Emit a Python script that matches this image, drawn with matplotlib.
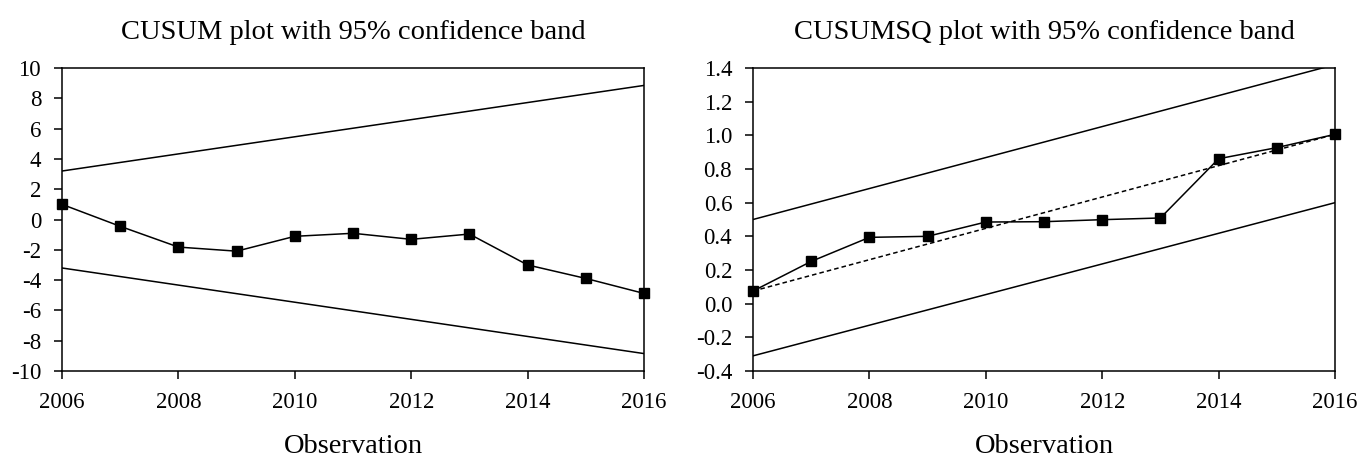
import matplotlib
matplotlib.use("Agg")
import matplotlib.pyplot as plt
from matplotlib.ticker import FormatStrFormatter

# datos
anios = [2006, 2007, 2008, 2009, 2010, 2011, 2012, 2013, 2014, 2015, 2016]
cusum = [1.0, -0.45, -1.82, -2.09, -1.11, -0.91, -1.31, -0.96, -3.0, -3.89, -4.88]
cusumsq = [0.075, 0.251, 0.394, 0.400, 0.485, 0.487, 0.499, 0.509, 0.861, 0.927, 1.006]

# bandas (extremos 2006 y 2016)
banda_anios = [2006, 2016]
cusum_sup = [3.2, 8.85]
cusum_inf = [-3.2, -8.85]
cusumsq_esperado = [0.075, 1.006]
cusumsq_sup = [0.50, 1.42]
cusumsq_inf = [-0.31, 0.60]

plt.rcParams['font.family'] = ['Liberation Serif', 'DejaVu Serif']
plt.rcParams['axes.unicode_minus'] = False

fig = plt.figure(figsize=(13.61, 4.57), dpi=100)
ax1 = fig.add_axes([62 / 1361, 86 / 457, 582 / 1361, 303 / 457])
ax2 = fig.add_axes([753 / 1361, 86 / 457, 582 / 1361, 303 / 457])

# CUSUM
ax1.plot(banda_anios, cusum_sup, color='black', lw=1.1)
ax1.plot(banda_anios, cusum_inf, color='black', lw=1.1)
ax1.plot(anios, cusum, color='black', lw=1.1, marker='s', ms=6.5, clip_on=False)
ax1.set_ylim(-10, 10)
ax1.set_yticks(range(-10, 11, 2))
ax1.set_title('CUSUM plot with 95% confidence band', fontsize=20.5, pad=21)

# CUSUMSQ
ax2.plot(banda_anios, cusumsq_sup, color='black', lw=1.1)
ax2.plot(banda_anios, cusumsq_inf, color='black', lw=1.1)
ax2.plot(banda_anios, cusumsq_esperado, color='black', lw=1.1, ls=(0, (3, 2)))
ax2.plot(anios, cusumsq, color='black', lw=1.1, marker='s', ms=6.5, clip_on=False)
ax2.set_ylim(-0.4, 1.4)
ax2.set_yticks([-0.4, -0.2, 0.0, 0.2, 0.4, 0.6, 0.8, 1.0, 1.2, 1.4])
ax2.yaxis.set_major_formatter(FormatStrFormatter('%.1f'))
ax2.set_title('CUSUMSQ plot with 95% confidence band', fontsize=20.5, pad=21)

for ax in (ax1, ax2):
    ax.set_xlim(2006, 2016)
    ax.set_xticks(range(2006, 2017, 2))
    ax.set_xlabel('Observation', fontsize=20.5, labelpad=15)
    ax.tick_params(direction='out', length=6, width=1.1, labelsize=16.5, pad=9,
                   top=False, right=False)
    for s in ax.spines.values():
        s.set_linewidth(1.1)

fig.savefig('out.png', dpi=100)
